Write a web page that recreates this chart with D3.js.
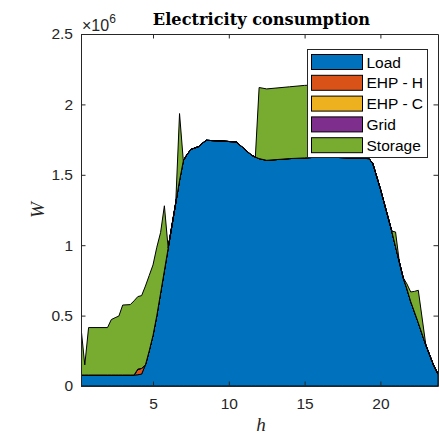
<!DOCTYPE html>
<html>
<head>
<meta charset="utf-8">
<script src="https://cdn.jsdelivr.net/npm/d3@7/dist/d3.min.js"></script>
<style>
  html, body { margin: 0; padding: 0; background: #fff; }
  svg { display: block; }
</style>
</head>
<body>
<svg id="chart" width="439" height="434"></svg>
<script>
// Hour of day for each sample
const hours = [0.25, 0.5, 0.75, 2.0, 2.25, 2.5, 2.75, 3.0, 3.5, 3.75, 4.0, 4.25, 4.5, 4.75, 5.0, 5.25, 5.5, 5.75,
  6.0, 6.25, 6.5, 6.75, 7.0, 7.25, 7.5, 8.0, 8.5, 9.5, 10.5, 11.5, 11.75, 12.0, 12.5, 14.0, 15.0, 16.0, 16.25,
  17.5, 19.25, 19.5, 20.0, 20.5, 20.75, 21.0, 21.25, 21.5, 21.75, 22.0, 22.25, 22.5, 23.0, 23.5, 23.8];

// Power per source (W)
const load = [78000, 78000, 78000, 78000, 78000, 78000, 78000, 78000, 78000, 78000, 80000, 85000, 150000, 250000,
  360000, 500000, 660000, 820000, 980000, 1140000, 1300000, 1460000, 1600000, 1645000, 1680000, 1700000, 1745000,
  1740000, 1733000, 1639000, 1626000, 1615000, 1603000, 1615000, 1620000, 1626000, 1626000, 1622000, 1615000,
  1580000, 1400000, 1200000, 1100000, 990000, 880000, 770000, 690000, 600000, 525000, 450000, 290000, 150000, 85000];

const ehpH = [0, 0, 0, 0, 0, 0, 0, 0, 0, 0, 40000, 40000, 0, 0, 0, 0, 0, 0, 0, 0, 0, 0, 0, 0, 0, 0, 0, 0, 0, 0, 0,
  0, 0, 0, 0, 0, 0, 0, 0, 0, 0, 0, 0, 0, 0, 0, 0, 0, 0, 0, 0, 0, 0];

const ehpC = [0, 0, 0, 0, 0, 0, 0, 0, 0, 0, 0, 0, 0, 0, 0, 0, 0, 0, 0, 0, 0, 0, 0, 0, 0, 0, 0, 0, 0, 0, 0,
  0, 0, 0, 0, 0, 0, 0, 0, 0, 0, 0, 0, 0, 0, 0, 0, 0, 0, 0, 0, 0, 0];

const grid = [0, 0, 0, 0, 0, 0, 0, 0, 0, 0, 0, 0, 0, 0, 0, 0, 0, 0, 0, 0, 0, 0, 0, 0, 0, 0, 0, 0, 0, 0, 0,
  0, 0, 0, 0, 0, 0, 0, 0, 0, 0, 0, 0, 0, 0, 0, 0, 0, 0, 0, 0, 0, 0];

const storage = [337000, 72000, 337000, 337000, 394000, 407000, 419000, 497000, 500000, 527000, 515000, 517000,
  560000, 535000, 500000, 485000, 430000, 460000, 0, 0, 0, 475000, 0, 0, 0, 0, 0, 0, 0, 0, 0, 505000, 507000,
  510000, 515000, 514000, 0, 0, 0, 0, 0, 0, 0, 104000, 0, 0, 35000, 68000, 147000, 230000, 0, 0, 0];

const seriesNames = ["Load", "EHP - H", "EHP - C", "Grid", "Storage"];
const seriesColors = ["#0072BD", "#D95319", "#EDB120", "#7E2F8E", "#77AC30"];
const xTicks = [5, 10, 15, 20];
const yTicks = [0, 0.5e6, 1e6, 1.5e6, 2e6, 2.5e6];
const yTickLabels = ["0", "0.5", "1", "1.5", "2", "2.5"];

const seriesValues = [load, ehpH, ehpC, grid, storage];
const rows = hours.map((h, i) => {
  const r = { h };
  seriesNames.forEach((n, k) => { r[n] = seriesValues[k][i]; });
  return r;
});

const svg = d3.select("#chart");
const L = 81, R = 438, T = 34, B = 386;
const axisColor = "#262626";

const x = d3.scaleLinear().domain([0.25, 23.8]).range([L, R]);
const y = d3.scaleLinear().domain([0, 2.5e6]).range([B, T]);

svg.append("defs").append("clipPath").attr("id", "plotClip")
  .append("rect").attr("x", L).attr("y", T).attr("width", R - L).attr("height", B - T);

const stacked = d3.stack().keys(seriesNames)(rows);
const area = d3.area()
  .x(d => x(d.data.h))
  .y0(d => y(d[0]))
  .y1(d => y(d[1]));

const plot = svg.append("g").attr("clip-path", "url(#plotClip)");
plot.selectAll("path.layer")
  .data(stacked)
  .join("path")
  .attr("class", "layer")
  .attr("d", area)
  .attr("fill", (d, i) => seriesColors[i])
  .attr("stroke", "#000")
  .attr("stroke-width", 1)
  .attr("stroke-linejoin", "round");

// Axes: ticks point inward on all four sides
const tickLen = 4.5;
function styleAxis(g) {
  g.select(".domain").attr("stroke", axisColor);
  g.selectAll(".tick line").attr("stroke", axisColor);
  g.selectAll(".tick text").attr("fill", axisColor)
    .attr("font-family", "'Liberation Sans', Arial, sans-serif").attr("font-size", 15.5);
}

svg.append("g").attr("transform", `translate(0,${B})`)
  .call(d3.axisBottom(x).tickValues(xTicks).tickSizeInner(-tickLen).tickSizeOuter(0).tickPadding(12))
  .call(styleAxis);
svg.append("g").attr("transform", `translate(0,${T})`)
  .call(d3.axisTop(x).tickValues(xTicks).tickSizeInner(-tickLen).tickSizeOuter(0).tickFormat(""))
  .call(styleAxis);
svg.append("g").attr("transform", `translate(${L},0)`)
  .call(d3.axisLeft(y).tickValues(yTicks).tickFormat((d, i) => yTickLabels[i])
    .tickSizeInner(-tickLen).tickSizeOuter(0).tickPadding(8))
  .call(styleAxis);
svg.append("g").attr("transform", `translate(${R},0)`)
  .call(d3.axisRight(y).tickValues(yTicks).tickSizeInner(-tickLen).tickSizeOuter(0).tickFormat(""))
  .call(styleAxis);
svg.selectAll(".domain").attr("fill", "none");

// Exponent marker for the y axis
const expo = svg.append("text")
  .attr("x", 82).attr("y", 30.5)
  .attr("fill", axisColor)
  .attr("font-family", "'Liberation Sans', Arial, sans-serif")
  .attr("font-size", 16);
expo.append("tspan").text("\u00d710");
expo.append("tspan").attr("dy", -7.5).attr("font-size", 12).text("6");

// Title and axis labels
svg.append("text")
  .attr("x", 261.5).attr("y", 24.5)
  .attr("text-anchor", "middle")
  .attr("font-family", "'DejaVu Serif', serif")
  .attr("font-weight", "bold")
  .attr("font-size", 16.2)
  .attr("fill", "#000")
  .text("Electricity consumption");

svg.append("text")
  .attr("x", 261).attr("y", 431)
  .attr("text-anchor", "middle")
  .attr("font-family", "'Liberation Serif', serif")
  .attr("font-style", "italic")
  .attr("font-size", 19)
  .attr("fill", axisColor)
  .text("h");

svg.append("text")
  .attr("transform", "translate(44,210) rotate(-90)")
  .attr("text-anchor", "middle")
  .attr("font-family", "'Liberation Serif', serif")
  .attr("font-style", "italic")
  .attr("font-size", 19)
  .attr("fill", axisColor)
  .text("W");

// Legend
const lg = svg.append("g");
lg.append("rect")
  .attr("x", 307.5).attr("y", 49.5).attr("width", 120).attr("height", 108)
  .attr("fill", "#fff").attr("stroke", axisColor).attr("stroke-width", 1);
seriesNames.forEach((n, i) => {
  const ry = 54.5 + i * 20.8;
  lg.append("rect")
    .attr("x", 311.5).attr("y", ry).attr("width", 51).attr("height", 15)
    .attr("fill", seriesColors[i]).attr("stroke", "#000").attr("stroke-width", 1);
  lg.append("text")
    .attr("x", 366.5).attr("y", ry + 7.5)
    .attr("dy", "0.36em")
    .attr("font-family", "'Liberation Sans', Arial, sans-serif")
    .attr("font-size", 15.5)
    .attr("fill", "#000")
    .text(n);
});
</script>
</body>
</html>
